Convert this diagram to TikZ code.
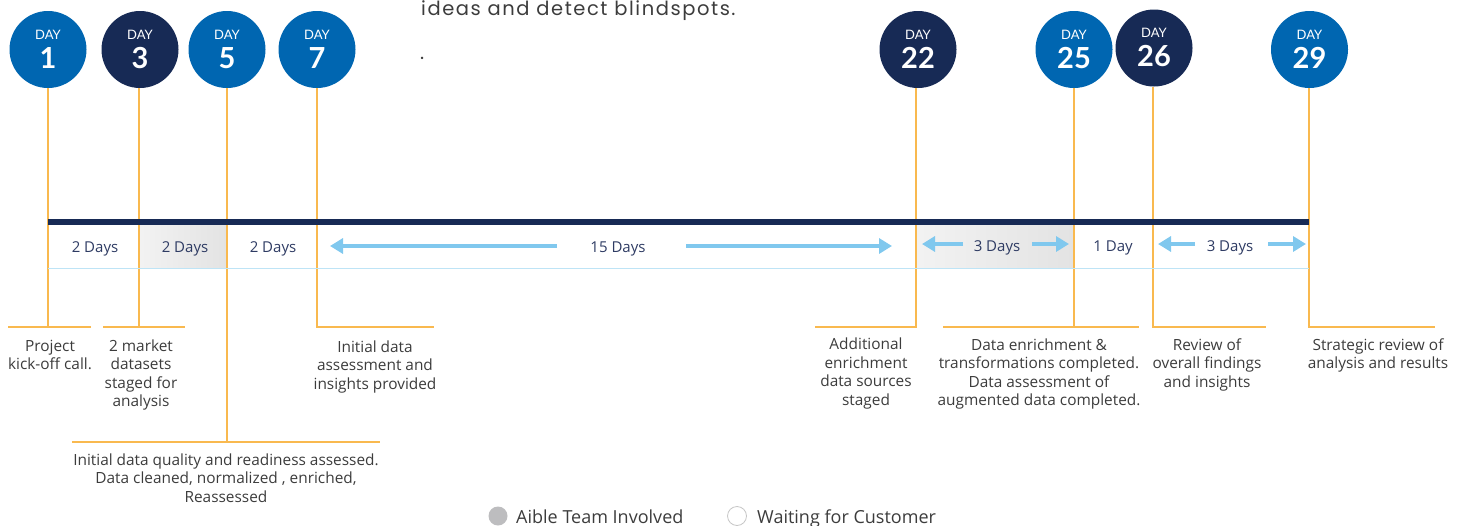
\documentclass[tikz,border=0pt]{standalone}
\usepackage{fontspec}
\setmainfont{Open Sans}
\newfontfamily\latofont{Lato}
\newfontfamily\popfont[LetterSpace=8]{Poppins}
\usetikzlibrary{arrows.meta}
\definecolor{navy}{HTML}{172A55}
\definecolor{mblue}{HTML}{0066B1}
\definecolor{orng}{HTML}{F9B94F}
\definecolor{lblue}{HTML}{80C8EE}
\definecolor{thinblue}{HTML}{BEE4F6}
\definecolor{txt}{HTML}{3C3C3C}
\definecolor{daytxt}{HTML}{2E3B63}
\definecolor{leggray}{HTML}{BDBDBF}
\newcommand\daycirc[5]{%
  \node[dayc=#4] (#1) at (#2,#3) {};
  \node[daysm] (#1l) at (#2,#3-10.5) {DAY};
  \node[daybig] (#1n) at (#2,#3+18.5) {#5};
}
\begin{document}
\begin{tikzpicture}[x=1pt,y=-1pt,
  dayc/.style={circle,fill=#1,minimum size=77pt,inner sep=0pt},
  daysm/.style={text=white,font=\latofont\fontsize{13}{13}\selectfont,anchor=base,inner sep=0pt},
  daybig/.style={text=white,font=\latofont\fontsize{29}{29}\selectfont\bfseries,anchor=base,inner sep=0pt},
  orl/.style={draw=orng,line width=1.6pt},
  cellt/.style={text=daytxt,font=\fontsize{15}{15}\selectfont,anchor=base,inner sep=0pt},
  lbl/.style={text=txt,font=\fontsize{15.4}{18.5}\selectfont,align=center,anchor=north,inner sep=0pt},
  arr/.style={draw=lblue,line width=4.5pt,-{Triangle[length=13pt,width=15pt]}},
  cell/.style={left color=gray!10,right color=gray!22,draw=none},
]
\useasboundingbox (0,0) rectangle (1464,525);
% shaded cells
\fill[cell] (139,225) rectangle (227,268);
\fill[cell] (916,225) rectangle (1074,268);
% day circles
\daycirc{d1}{48}{49.5}{mblue}{1}
\daycirc{d3}{140}{49.5}{navy}{3}
\daycirc{d5}{227}{49.5}{mblue}{5}
\daycirc{d7}{317}{49.5}{mblue}{7}
\daycirc{d22}{918}{49.5}{navy}{22}
\daycirc{d25}{1074}{49.5}{mblue}{25}
\daycirc{d26}{1154}{48}{navy}{26}
\daycirc{d29}{1309.5}{49.5}{mblue}{29}
% bracket joints
\coordinate (b1) at (48,327);
\coordinate (b3) at (139,327);
\coordinate (b5) at (227,442);
\coordinate (b7) at (317,327);
\coordinate (b22) at (916,327);
\coordinate (b25) at (1074,327);
\coordinate (b26) at (1153,327);
\coordinate (b29) at (1309,327);
\draw[orl] (d1.south -| b1) -- (b1);
\draw[orl] (d3.south -| b3) -- (b3);
\draw[orl] (d5.south -| b5) -- (b5);
\draw[orl] (d7.south -| b7) -- (b7);
\draw[orl] (d22.south -| b22) -- (b22);
\draw[orl] (d25.south -| b25) -- (b25);
\draw[orl] (d26.south -| b26) -- (b26);
\draw[orl] (d29.south -| b29) -- (b29);
\draw[orl] (8,327) -- (91,327);
\draw[orl] (103,327) -- (185,327);
\draw[orl] (72,442) -- (380,442);
\draw[orl] (316,327) -- (434,327);
\draw[orl] (815,327) -- (917,327);
\draw[orl] (943,327) -- (1139,327);
\draw[orl] (1152.2,327) -- (1266,327);
\draw[orl] (1308.2,327) -- (1435,327);
% timeline bar
\fill[navy] (48,219) rectangle (1309,225);
\draw[thinblue,line width=1pt] (48,268) -- (1309,268);
% cell texts
\node[cellt] (t1) at (95,252.5) {2 Days};
\node[cellt] (t2) at (185,252.5) {2 Days};
\node[cellt] (t3) at (273,252.5) {2 Days};
\node[cellt] (t4) at (618,252.5) {15 Days};
\node[cellt] (t5) at (997,251) {3 Days};
\node[cellt] (t6) at (1113,251) {1 Day};
\node[cellt] (t7) at (1230,251) {3 Days};
% arrows
\coordinate (a1s) at (557,246); \coordinate (a1e) at (330,246);
\coordinate (a2s) at (686,246); \coordinate (a2e) at (892,246);
\coordinate (a3s) at (963,244); \coordinate (a3e) at (922,244);
\coordinate (a4s) at (1032,244); \coordinate (a4e) at (1069,244);
\coordinate (a5s) at (1195,244); \coordinate (a5e) at (1158,244);
\coordinate (a6s) at (1268,244); \coordinate (a6e) at (1306,244);
\draw[arr] (a1s) -- (a1e);
\draw[arr] (a2s) -- (a2e);
\draw[arr] (a3s) -- (a3e);
\draw[arr] (a4s) -- (a4e);
\draw[arr] (a5s) -- (a5e);
\draw[arr] (a6s) -- (a6e);
% labels
\node[lbl] (l1) at (50,339.5) {Project\\kick-off call.};
\node[lbl] (l3) at (141,339.5) {2 market\\datasets\\staged for\\analysis};
\node[lbl] (l7) at (375,340.5) {Initial data\\assessment and\\insights provided};
\node[lbl] (l5) at (226,453.5) {Initial data quality and readiness assessed.\\Data cleaned, normalized , enriched,\\Reassessed};
\node[lbl] (l22) at (866,338) {Additional\\enrichment\\data sources\\staged};
\node[lbl] (l25) at (1039,338.5) {Data enrichment \&\\transformations completed.\\Data assessment of\\augmented data completed.};
\node[lbl] (l26) at (1207,338.5) {Review of\\overall findings\\and insights};
\node[lbl] (l29) at (1378,338.5) {Strategic review of\\analysis and results};
% top text
\node[anchor=base west,inner sep=0pt,text=txt,font=\popfont\fontsize{19.5}{19.5}\selectfont] (top) at (421,15.5) {ideas and detect blindspots.};
\node[anchor=base west,inner sep=0pt,text=txt,font=\popfont\fontsize{19.5}{19.5}\selectfont] (dot) at (420,59) {.};
% legend
\node[circle,fill=leggray,minimum size=19pt,inner sep=0pt] (lg1) at (498,516) {};
\node[anchor=base west,inner sep=0pt,text=txt,font=\fontsize{18}{18}\selectfont] (lt1) at (516,523.5) {Aible Team Involved};
\node[circle,draw=gray!45,line width=0.8pt,fill=white,minimum size=19pt,inner sep=0pt] (lg2) at (737,516) {};
\node[anchor=base west,inner sep=0pt,text=txt,font=\fontsize{18}{18}\selectfont] (lt2) at (757,523.5) {Waiting for Customer};
\end{tikzpicture}
\end{document}
